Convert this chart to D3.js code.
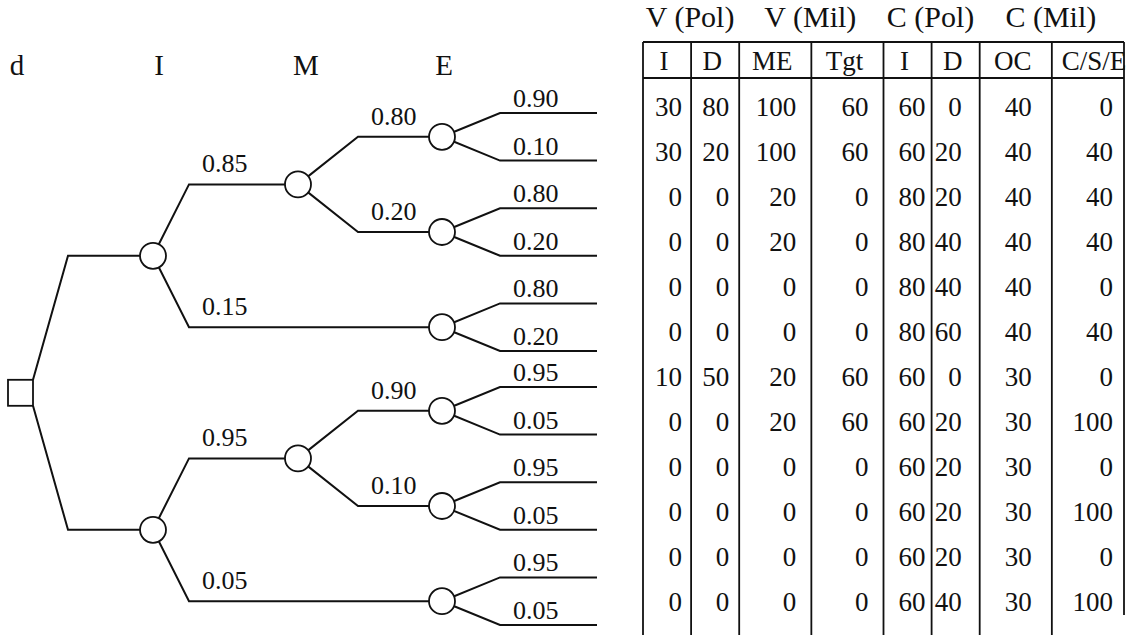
<!DOCTYPE html>
<html><head><meta charset="utf-8">
<script src="https://cdn.jsdelivr.net/npm/d3@7"></script>
<style>
body{margin:0;background:#fff}
svg{display:block}
text{font-family:"Liberation Serif","Times New Roman",serif;fill:#111}
</style>
</head><body><svg id="chart" width="1130" height="635"></svg>
<script>
// ---------- data ----------
const levelLabels = ["d", "I", "M", "E"];
const iBranchProbs = ["0.85", "0.15", "0.95", "0.05"];
const mBranchProbs = ["0.80", "0.20", "0.90", "0.10"];
const leafProbs = ["0.90", "0.10", "0.80", "0.20", "0.80", "0.20", "0.95", "0.05", "0.95", "0.05", "0.95", "0.05"];
const groupHeaders = ["V (Pol)", "V (Mil)", "C (Pol)", "C (Mil)"];
const columnHeaders = ["I", "D", "ME", "Tgt", "I", "D", "OC", "C/S/E"];
const vPolI   = [30, 30, 0, 0, 0, 0, 10, 0, 0, 0, 0, 0];
const vPolD   = [80, 20, 0, 0, 0, 0, 50, 0, 0, 0, 0, 0];
const vMilME  = [100, 100, 20, 20, 0, 0, 20, 20, 0, 0, 0, 0];
const vMilTgt = [60, 60, 0, 0, 0, 0, 60, 60, 0, 0, 0, 0];
const cPolI   = [60, 60, 80, 80, 80, 80, 60, 60, 60, 60, 60, 60];
const cPolD   = [0, 20, 20, 40, 40, 60, 0, 20, 20, 20, 20, 40];
const cMilOC  = [40, 40, 40, 40, 40, 40, 30, 30, 30, 30, 30, 30];
const cMilCSE = [0, 40, 40, 40, 0, 40, 0, 100, 0, 100, 0, 100];

// ---------- build tree ----------
let leafCounter = 0;
function eNode(prob) {
  const children = [0, 1].map(() => ({ type: "leaf", prob: leafProbs[leafCounter], slot: leafCounter++ }));
  return { type: "E", prob, children };
}
const treeData = { type: "d", children: [
  { type: "I", children: [
    { type: "M", prob: iBranchProbs[0], children: [eNode(mBranchProbs[0]), eNode(mBranchProbs[1])] },
    eNode(iBranchProbs[1])
  ]},
  { type: "I", children: [
    { type: "M", prob: iBranchProbs[2], children: [eNode(mBranchProbs[2]), eNode(mBranchProbs[3])] },
    eNode(iBranchProbs[3])
  ]}
]};

const svg = d3.select("#chart");
const ink = "#111";

// scales for the tree
const ySlot = d3.scaleLinear().domain([0, 5, 6, 11]).range([113, 351, 387, 625]);
const xNode = d3.scaleOrdinal().domain(["d", "I", "M", "E", "leaf"]).range([21, 153, 298, 442, 597]);
const xElbow = d3.scaleOrdinal().domain(["d", "I", "M", "E"]).range([68, 189, 358, 500]);
const xLevelLabel = d3.scaleOrdinal().domain(levelLabels).range([17, 159, 306, 444]);

const root = d3.hierarchy(treeData);
root.eachAfter(n => {
  n.py = n.children ? d3.mean(n.children, c => c.py) : ySlot(n.data.slot);
});
const sqHalf = 13;

// level labels
svg.append("g").selectAll("text").data(levelLabels).join("text")
  .attr("x", d => xLevelLabel(d)).attr("y", 75)
  .attr("text-anchor", "middle").attr("font-size", 29).text(d => d);

// links
const links = root.descendants().filter(n => n.parent);
svg.append("g").selectAll("path").data(links).join("path")
  .attr("fill", "none").attr("stroke", ink).attr("stroke-width", 2)
  .attr("d", n => {
    const p = n.parent;
    let sx, sy;
    if (p.data.type === "d") { sx = xNode("d") + 12; sy = p.py + (n.py < p.py ? -sqHalf : sqHalf); }
    else { sx = xNode(p.data.type); sy = p.py; }
    const ex = xElbow(p.data.type);
    const endX = xNode(n.data.type);
    return `M${sx},${sy}L${ex},${n.py}H${endX}`;
  });

// probability labels
svg.append("g").selectAll("text").data(links.filter(n => n.data.prob)).join("text")
  .attr("x", n => xElbow(n.parent.data.type) + 13)
  .attr("y", n => n.py - (n.data.type === "leaf" ? 6 : 12))
  .attr("font-size", 26).text(n => n.data.prob);

// chance nodes
svg.append("g").selectAll("circle")
  .data(root.descendants().filter(n => ["I", "M", "E"].includes(n.data.type))).join("circle")
  .attr("cx", n => xNode(n.data.type)).attr("cy", n => n.py).attr("r", 13)
  .attr("fill", "#fff").attr("stroke", ink).attr("stroke-width", 1.8);

// decision node
svg.append("rect")
  .attr("x", xNode("d") - 13).attr("y", root.py - sqHalf)
  .attr("width", 25).attr("height", sqHalf * 2)
  .attr("fill", "#fff").attr("stroke", ink).attr("stroke-width", 1.8);

// ---------- table ----------
const tableCols = [vPolI, vPolD, vMilME, vMilTgt, cPolI, cPolD, cMilOC, cMilCSE];
const colUnits = [2, 2, 3, 3, 2, 2, 3, 3];
const cum = [0]; colUnits.forEach(u => cum.push(cum[cum.length - 1] + u));
const xCol = d3.scaleLinear().domain([0, d3.sum(colUnits)]).range([643, 1124]);
const edges = cum.map(c => xCol(c));
const rightPad = [9, 10, 15, 15, 6, 18, 20, 11];
const yRow = d3.scaleLinear().domain([0, 11]).range([107, 602]);
const tableTop = 42, headerBottom = 78, tableBottom = 635;

const tg = svg.append("g");
// group headers
tg.selectAll("text.grp").data(groupHeaders).join("text").attr("class", "grp")
  .attr("x", (d, i) => (edges[i * 2] + edges[i * 2 + 2]) / 2 - 1).attr("y", 27)
  .attr("text-anchor", "middle").attr("font-size", 30).text(d => d);

// column headers
tg.selectAll("text.col").data(columnHeaders).join("text").attr("class", "col")
  .attr("y", 70).attr("font-size", 27).text(d => d)
  .each(function (d, i) {
    const w = this.getComputedTextLength();
    const cx = (edges[i] + edges[i + 1]) / 2 - 3;
    const x = Math.max(cx - w / 2, edges[i] + 10);
    d3.select(this).attr("x", x);
  });

// values
tableCols.forEach((col, ci) => {
  tg.append("g").selectAll("text").data(col).join("text")
    .attr("x", edges[ci + 1] - rightPad[ci])
    .attr("y", (d, r) => yRow(r) + 9)
    .attr("text-anchor", "end").attr("font-size", 27).text(d => d);
});

// grid lines
tg.append("line").attr("x1", edges[0]).attr("x2", edges[8]).attr("y1", tableTop).attr("y2", tableTop)
  .attr("stroke", ink).attr("stroke-width", 2);
tg.append("line").attr("x1", edges[0]).attr("x2", edges[8]).attr("y1", headerBottom).attr("y2", headerBottom)
  .attr("stroke", ink).attr("stroke-width", 1.8);
tg.selectAll("line.v").data(edges).join("line").attr("class", "v")
  .attr("x1", d => d).attr("x2", d => d)
  .attr("y1", tableTop).attr("y2", (d, i) => i === edges.length - 1 ? 615 : tableBottom)
  .attr("stroke", ink).attr("stroke-width", 1.8);
</script>
</body></html>
